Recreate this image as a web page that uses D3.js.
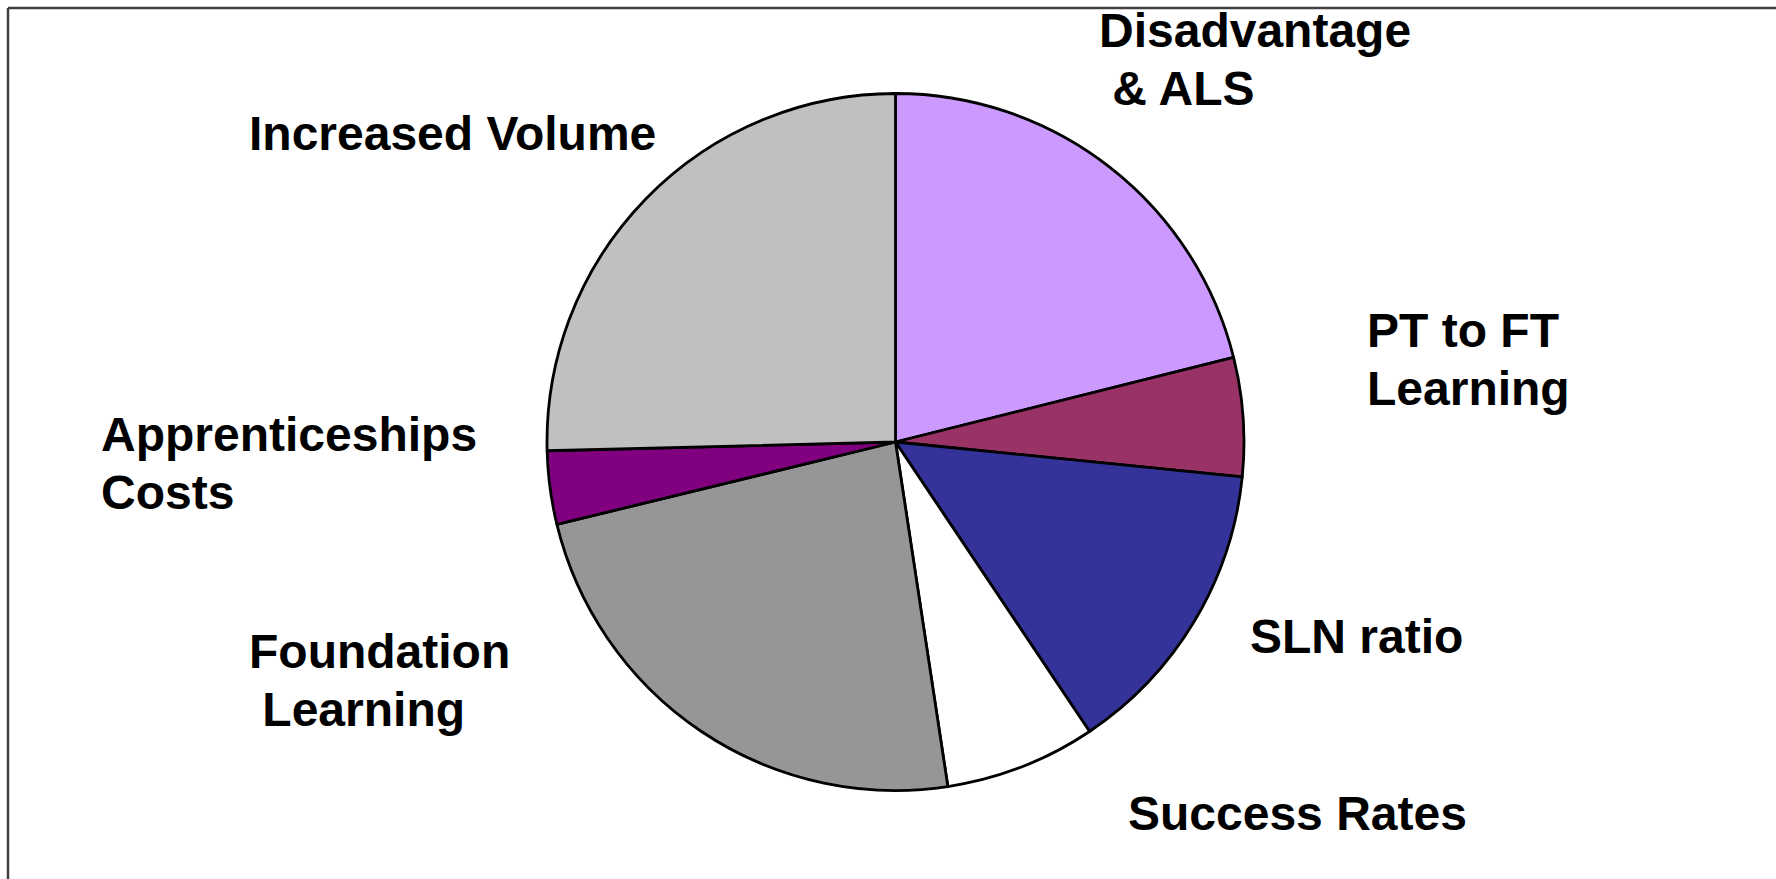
<!DOCTYPE html>
<html>
<head>
<meta charset="utf-8">
<script src="https://cdn.jsdelivr.net/npm/d3@7"></script>
<style>
  html, body { margin: 0; padding: 0; background: #fff; }
  svg { display: block; }
</style>
</head>
<body>
<svg id="chart" width="1776" height="879"></svg>
<script>
// ---- data ----
const categories = ["Disadvantage & ALS", "PT to FT Learning", "SLN ratio", "Success Rates",
                    "Foundation Learning", "Apprenticeships Costs", "Increased Volume"];
const values = [21.1, 5.5, 14.0, 7.0, 23.6, 3.4, 25.4];
const colors = ["#CC99FF", "#993366", "#333399", "#FFFFFF", "#969696", "#800080", "#C0C0C0"];
const labelLines = [
  ["Disadvantage", "\u00A0& ALS"],
  ["PT to FT", "Learning"],
  ["SLN ratio"],
  ["Success Rates"],
  ["Foundation", "\u00A0Learning"],
  ["Apprenticeships", "Costs"],
  ["Increased Volume"]
];
// label anchor (left x, first baseline)
const labelPos = [
  [1099, 47], [1367, 347], [1250, 653], [1128, 830],
  [249, 668], [101, 451], [249, 150]
];

// ---- drawing ----
const svg = d3.select("#chart");
const W = 1776, H = 879;
const cx = 895.5, cy = 442, R = 348.5;

// frame
svg.append("line").attr("x1", 8).attr("y1", 8).attr("x2", W).attr("y2", 8)
  .attr("stroke", "#404040").attr("stroke-width", 2.5);
svg.append("line").attr("x1", 8).attr("y1", 8).attr("x2", 8).attr("y2", H)
  .attr("stroke", "#404040").attr("stroke-width", 2.5);

const data = categories.map((c, i) => ({ name: c, value: values[i], color: colors[i], lines: labelLines[i], pos: labelPos[i] }));

const pie = d3.pie().value(d => d.value).sort(null).startAngle(0).endAngle(2 * Math.PI);
const arc = d3.arc().innerRadius(0).outerRadius(R);

const g = svg.append("g").attr("transform", `translate(${cx},${cy})`);
g.selectAll("path.slice").data(pie(data)).join("path")
  .attr("class", "slice")
  .attr("d", arc)
  .attr("fill", d => d.data.color)
  .attr("stroke", "#000")
  .attr("stroke-width", 2.8)
  .attr("stroke-linejoin", "round");

const lineH = 57.5;
const labels = svg.selectAll("text.lbl").data(data).join("text")
  .attr("class", "lbl")
  .attr("x", d => d.pos[0])
  .attr("y", d => d.pos[1])
  .attr("font-family", "'Liberation Sans', Arial, sans-serif")
  .attr("font-weight", "bold")
  .attr("font-size", 48)
  .attr("fill", "#000");
labels.each(function(d) {
  const t = d3.select(this);
  d.lines.forEach((ln, i) => {
    t.append("tspan").attr("x", d.pos[0]).attr("y", d.pos[1] + i * lineH).text(ln);
  });
});
</script>
</body>
</html>
